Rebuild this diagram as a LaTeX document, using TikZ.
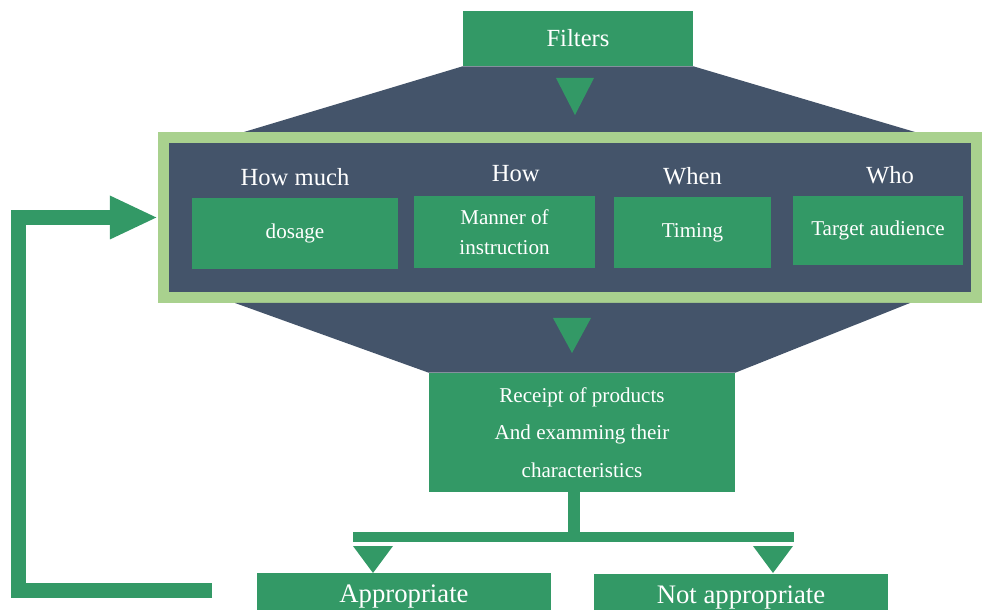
\documentclass[tikz,border=0pt]{standalone}
\usepackage{fontspec}
\setmainfont{Liberation Serif}
\usepackage{tikz}
\usetikzlibrary{calc,arrows.meta,positioning}
\definecolor{leaf}{RGB}{51,153,102}
\definecolor{slate}{RGB}{68,84,106}
\definecolor{lime}{RGB}{169,209,142}

\begin{document}
\begin{tikzpicture}[x=0.025cm, y=-0.025cm,
    box/.style={fill=leaf, text=white, align=center, inner sep=0pt,
        font=\fontsize{15}{21}\selectfont},
    hdr/.style={text=white, inner sep=0pt, font=\fontsize{17.5}{20}\selectfont},
    pointer/.style={fill=leaf},
    fback/.style={draw=leaf, line width=0.375cm, line join=miter,
        -{Triangle[length=1.2cm, width=1cm]}}]
    \useasboundingbox (0,0) rectangle (982,610);

    % Filters on top of the funnel
    \node[box, minimum width=5.75cm, minimum height=1.375cm,
        font=\fontsize{17.5}{20}\selectfont] (filters) at (578,38.5) {Filters};
    \node[draw=lime, line width=0.275cm, fill=slate, minimum width=20.325cm,
        minimum height=4cm, inner sep=0pt] (frame) at (570,217.5) {};
    \fill[slate] (filters.south west) -- (filters.south east) -- (915,132) -- (244,132) -- cycle;
    \fill[pointer] (556,78) -- (594,78) -- (575,115) -- cycle;

    % The four filters
    \node[box, minimum width=5.15cm, minimum height=1.775cm] (dosage) at (295,233.5) {dosage};
    \node[box, minimum width=4.525cm, minimum height=1.8cm] (manner) at (504.5,232) {Manner of\\instruction};
    \node[box, minimum width=3.925cm, minimum height=1.775cm] (timing) at (692.5,232.5) {Timing};
    \node[box, minimum width=4.25cm, minimum height=1.725cm] (target) at (878,230.5) {Target audience};
    \node[hdr, above=0.28cm of dosage] (howmuch) {How much};
    \node[hdr, above=0.35cm of manner, xshift=0.28cm] (how) {How};
    \node[hdr, above=0.28cm of timing] (when) {When};
    \node[hdr, above=0.28cm of target, xshift=0.3cm] (who) {Who};

    % Products
    \node[box, minimum width=7.65cm, minimum height=2.975cm,
        font=\fontsize{15}{26.6}\selectfont] (receipt) at (582,432.5)
        {Receipt of products\\And examming their\\characteristics};
    \fill[slate] (235,303) -- (910,303) -- (receipt.north east) -- (receipt.north west) -- cycle;
    \fill[pointer] (553,318) -- (591,318) -- (572,353) -- cycle;

    % Outcomes
    \node[box, minimum width=7.35cm, minimum height=1.15cm,
        font=\fontsize{19}{22}\selectfont] (appr) at (404,596) {Appropriate};
    \node[box, minimum width=7.35cm, minimum height=1.15cm,
        font=\fontsize{19}{22}\selectfont] (notappr) at (741,597) {Not appropriate};
    \coordinate (split) at (574,537);
    \draw[leaf, line width=0.3cm] (split |- receipt.south) -- (split);
    \draw[leaf, line width=0.25cm] (353,537) -- (794,537);
    \fill[pointer] (353,546) -- (393,546) -- (373,573) -- cycle;
    \fill[pointer] (753,546) -- (793,546) -- (773,573) -- cycle;

    % Back to the filters
    \coordinate (fbstart) at (212,590.5);
    \coordinate (fbturn) at (18.5,217.5);
    \draw[fback] (fbstart) -| (fbturn) -- (frame.west);
\end{tikzpicture}
\end{document}
